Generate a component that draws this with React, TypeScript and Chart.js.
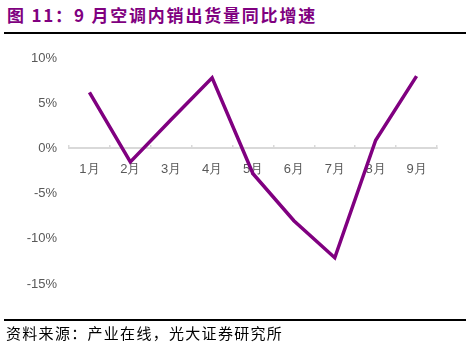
import React, { useEffect, useRef } from "react";
import { Chart, registerables } from "chart.js";

Chart.register(...registerables);

const categories = ["1月", "2月", "3月", "4月", "5月", "6月", "7月", "8月", "9月"];
const growthValues = [6.2, -1.5, 3.2, 7.8, -2.8, -8.0, -12.1, 0.9, 8.0];
const yMin = -15;
const yMax = 10;
const yStep = 5;

const titleText = "图 11：9 月空调内销出货量同比增速";
const sourceText = "资料来源：产业在线，光大证券研究所";

export default function App() {
  const canvasRef = useRef<HTMLCanvasElement | null>(null);

  useEffect(() => {
    document.body.style.margin = "0";
    const canvas = canvasRef.current;
    if (!canvas) return;
    const chart = new Chart(canvas, {
      type: "line",
      data: {
        labels: categories,
        datasets: [
          {
            data: growthValues,
            borderColor: "#800080",
            borderWidth: 3.5,
            pointRadius: 0,
            tension: 0,
            fill: false,
          },
        ],
      },
      options: {
        animation: false,
        responsive: false,
        maintainAspectRatio: false,
        layout: { padding: { top: 58, bottom: 68, left: 7, right: 33 } },
        plugins: { legend: { display: false }, tooltip: { enabled: false } },
        scales: {
          x: {
            type: "category",
            offset: true,
            position: { y: 0 } as any,
            grid: {
              display: true,
              drawOnChartArea: false,
              drawTicks: true,
              tickLength: -4,
              color: "#D9D9D9",
              lineWidth: 1.5,
              offset: true,
            },
            border: { display: true, color: "#D9D9D9", width: 2 },
            ticks: {
              color: "#595959",
              padding: 17,
              font: { family: "Liberation Sans, Arial, sans-serif", size: 13 },
            },
          },
          y: {
            min: yMin,
            max: yMax,
            grid: { display: false, drawTicks: false },
            border: { display: false },
            afterFit: (s: any) => {
              s.width = 62;
            },
            ticks: {
              stepSize: yStep,
              padding: 12,
              color: "#595959",
              font: { family: "Liberation Sans, Arial, sans-serif", size: 13 },
              callback: (v: any) => `${v}%`,
            },
          },
        },
      },
    });
    return () => chart.destroy();
  }, []);

  return (
    <div style={{ position: "relative", width: 470, height: 352, background: "#fff", overflow: "hidden" }}>
      <div
        style={{
          position: "absolute",
          left: 7,
          top: 4,
          fontFamily: "'Noto Sans CJK SC', sans-serif",
          fontWeight: 700,
          fontSize: 17,
          lineHeight: "22px",
          color: "#800080",
          letterSpacing: 1.8,
          whiteSpace: "nowrap",
        }}
      >
        {titleText}
      </div>
      <div style={{ position: "absolute", left: 4, top: 32, width: 462, height: 1.5, background: "#000" }} />
      <canvas ref={canvasRef} width={470} height={352} style={{ position: "absolute", left: 0, top: 0 }} />
      <div style={{ position: "absolute", left: 4, top: 319, width: 462, height: 1.5, background: "#000" }} />
      <div
        style={{
          position: "absolute",
          left: 6,
          top: 323,
          fontFamily: "'Noto Sans CJK SC', sans-serif",
          fontSize: 15,
          lineHeight: "20px",
          color: "#000",
          letterSpacing: 1.3,
          whiteSpace: "nowrap",
        }}
      >
        {sourceText}
      </div>
    </div>
  );
}
